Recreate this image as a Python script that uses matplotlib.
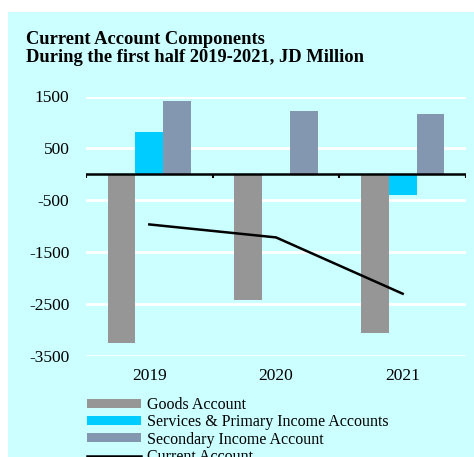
import numpy as np
import matplotlib.pyplot as plt
from matplotlib.patches import Rectangle

years = ['2019', '2020', '2021']
goods = [-3240, -2430, -3050]
services = [825, 0, -400]
secondary = [1420, 1230, 1160]
current = [-965, -1215, -2300]

plt.rcParams['font.family'] = ['Liberation Serif', 'DejaVu Serif']
plt.rcParams['axes.unicode_minus'] = False

bg = '#CCFFFF'
fig = plt.figure(figsize=(4.74, 4.57), dpi=100)
fig.patch.set_facecolor('white')
fig.patches.append(Rectangle((8 / 474, 0), 1, 1 - 12 / 457, transform=fig.transFigure,
                             facecolor=bg, edgecolor='none', zorder=-10))

ax = fig.add_axes([86 / 474, 1 - 356 / 457, 380 / 474, 259.5 / 457])
ax.set_facecolor(bg)

x = np.arange(len(years))
w = 0.22
b1 = ax.bar(x - w, goods, w, color='#969696', zorder=2)
b2 = ax.bar(x, services, w, color='#00CCFF', zorder=2)
b3 = ax.bar(x + w, secondary, w, color='#8497B0', zorder=2)
l1, = ax.plot(x, current, color='black', lw=1.8, zorder=3)

ax.set_xlim(-0.5, 2.5)
ax.set_ylim(-3500, 1500)
ax.set_yticks(np.arange(-3500, 1501, 1000))
ax.yaxis.grid(True, color='white', lw=2)
ax.set_axisbelow(True)
for s in ax.spines.values():
    s.set_visible(False)
ax.tick_params(axis='y', length=0, pad=12, labelsize=12.5)
ax.tick_params(axis='x', length=0, pad=9, labelsize=12.5)
ax.set_xticks(x)
ax.set_xticklabels(years)

# zero line with small ticks at category boundaries
ax.axhline(0, color='black', lw=1.8, zorder=4)
for b in [-0.5, 0.5, 1.5, 2.5]:
    ax.plot([b, b], [0, -70], color='black', lw=1.5, zorder=4, solid_capstyle='butt')

fig.text(26 / 474, 1 - 31 / 457,
         'Current Account Components\nDuring the first half 2019-2021, JD Million',
         fontsize=13.3, fontweight='bold', va='top', linespacing=1.05)

ax.legend([b1, b2, b3, l1],
          ['Goods Account', 'Services & Primary Income Accounts',
           'Secondary Income Account', 'Current Account'],
          loc='upper left', bbox_to_anchor=(0.002, -0.158), frameon=False,
          fontsize=11.5, handlelength=3.4, handleheight=0.5, labelspacing=0.08,
          borderaxespad=0, borderpad=0, handletextpad=0.35)

fig.savefig('out.png', dpi=100, facecolor=fig.get_facecolor())
